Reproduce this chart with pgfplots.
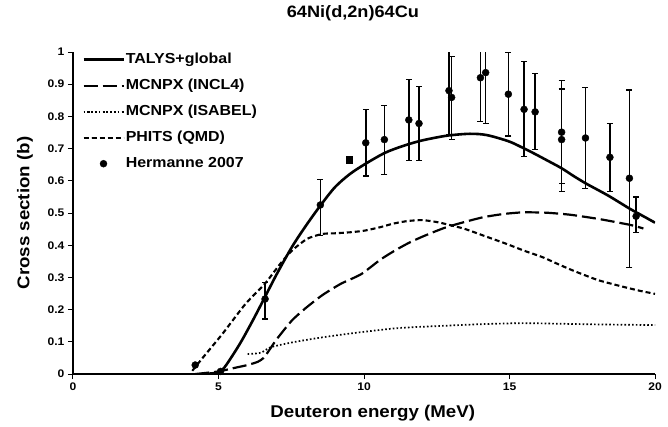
\documentclass[border=0pt]{standalone}
\usepackage{fontspec}
\setmainfont{Liberation Sans}[FakeStretch=1.1]
\usepackage{pgfplots}
\pgfplotsset{compat=1.18}
\begin{document}
\begin{tikzpicture}
\begin{axis}[
  width=582pt, height=322pt, scale only axis,
  xmin=0, xmax=20, ymin=0, ymax=1,
  axis x line=bottom, axis y line=left,
  axis line style={-, line width=1.3pt},
  xtick={0,5,10,15,20},
  ytick={0,0.1,0.2,0.3,0.4,0.5,0.6,0.7,0.8,0.9,1},
  tick align=outside, major tick length=5pt,
  tick style={line width=1pt, black},
  /pgf/number format/assume math mode=true,
  /pgf/number format/fixed, /pgf/number format/precision=1,
  tick label style={font=\fontsize{11}{13}\selectfont\bfseries},
  xlabel={Deuteron energy (MeV)},
  ylabel={Cross section (b)},
  xlabel style={at={(axis description cs:0.515,-0.1335)}, anchor=base, inner sep=0pt, font=\fontsize{17}{20}\selectfont\bfseries},
  ylabel style={at={(axis description cs:-0.0687,0.5)}, anchor=south, inner sep=0pt, font=\fontsize{17}{20}\selectfont\bfseries},
  title={64Ni(d,2n)64Cu},
  title style={at={(axis description cs:0.481,1.09)}, anchor=base, inner sep=0pt, font=\fontsize{16.5}{19}\selectfont\bfseries},
  legend image code/.code={\draw[mark repeat=2,mark phase=2,#1] plot coordinates {(0pt,0pt) (20pt,0pt) (40pt,0pt)};},
  legend style={at={(axis description cs:0.0155,1.0)}, anchor=north west, draw=none, fill=none, inner sep=0pt,
    font=\fontsize{14.5}{16}\selectfont\bfseries, row sep=11pt,
    nodes={inner sep=1pt, text height=10pt, text depth=3pt}},
  legend cell align=left,
  clip=true,
]
\addplot[black, line width=2.6pt, smooth, tension=0.5] coordinates {
(4.5,0) (5.0,0.005) (5.2,0.02) (5.5,0.06) (5.8,0.104) (6.2,0.17) (6.59,0.238) (7.0,0.31) (7.52,0.394) (8.0,0.46) (8.5,0.523) (9.0,0.58) (9.5,0.62) (10.0,0.65) (10.7,0.686) (11.3,0.707) (11.89,0.723) (12.4,0.733) (12.92,0.741) (13.64,0.746) (14.22,0.742) (14.96,0.723) (15.4,0.705) (15.82,0.686) (16.3,0.663) (16.79,0.639) (17.2,0.615) (17.62,0.592) (18.05,0.571) (18.45,0.551) (19.12,0.514) (19.5,0.495) (20,0.47)};
\addlegendentry{TALYS+global}
\addplot[black, line width=2.2pt, dash pattern=on 14pt off 5pt, smooth, tension=0.4] coordinates {
(4.2,0) (5.0,0.008) (5.5,0.018) (6.0,0.028) (6.35,0.038) (6.55,0.05) (6.75,0.075) (7.0,0.108) (7.52,0.166) (8.0,0.205) (8.57,0.245) (9.2,0.28) (9.9,0.31) (10.56,0.355) (11.09,0.385) (11.6,0.41) (12.15,0.432) (12.8,0.455) (13.45,0.472) (14.1,0.487) (14.8,0.497) (15.46,0.502) (16.26,0.501) (17.05,0.495) (17.6,0.488) (18.1,0.481) (18.64,0.472) (19.2,0.462) (19.6,0.452)};
\addlegendentry{MCNPX (INCL4)}
\addplot[black, line width=1.7pt, dash pattern=on 1.6pt off 2.2pt, smooth, tension=0.4] coordinates {
(6.0,0.062) (6.45,0.066) (6.79,0.083) (7.52,0.098) (8.57,0.114) (9.9,0.130) (11.22,0.143) (12.8,0.150) (14.1,0.155) (15.46,0.158) (16.79,0.156) (18.1,0.154) (20,0.152)};
\addlegendentry{MCNPX (ISABEL)}
\addplot[black, line width=2.1pt, dash pattern=on 5pt off 3pt, smooth, tension=0.4] coordinates {
(4.1,0.01) (4.5,0.055) (5.13,0.124) (5.93,0.218) (6.59,0.28) (7.12,0.342) (7.52,0.383) (8.05,0.42) (8.57,0.435) (9.0,0.437) (9.5,0.44) (10.0,0.445) (10.56,0.456) (11.0,0.467) (11.49,0.475) (12.0,0.478) (12.5,0.472) (12.8,0.466) (13.45,0.451) (14.1,0.43) (14.9,0.404) (15.5,0.383) (16.13,0.363) (16.7,0.34) (17.19,0.321) (17.7,0.303) (18.1,0.29) (18.9,0.271) (19.5,0.258) (20,0.249)};
\addlegendentry{PHITS (QMD)}
\addplot[black, only marks, mark=*, mark size=3.5pt,
  error bars/.cd, y dir=both, y explicit,
  error bar style={line width=1.6pt, black},
  error mark options={rotate=90, mark size=3pt, line width=1.2pt, black}]
  table[x=x, y=y, y error plus=ep, y error minus=em] {
x y ep em
4.2 0.028 0 0
5.07 0.008 0 0
6.6 0.233 0.052 0.062
8.5 0.525 0.08 0.095
10.06 0.718 0.104 0.103
10.7 0.728 0.107 0.108
11.54 0.789 0.125 0.125
11.89 0.778 0.115 0.116
12.92 0.88 0.125 0.136
13.01 0.859 0.127 0.131
14.0 0.92 0.15 0.136
14.18 0.936 0.15 0.158
14.96 0.869 0.131 0.13
15.5 0.822 0.149 0.146
15.88 0.814 0.12 0.117
16.79 0.751 0.16 0.159
16.79 0.728 0.157 0.162
17.61 0.733 0.157 0.156
18.45 0.673 0.104 0.107
19.12 0.608 0.274 0.278
19.35 0.49 0.06 0.05
};
\addlegendentry{Hermanne 2007}
\addplot[black, only marks, mark=square*, mark size=3.2pt, forget plot] coordinates {(9.5,0.665)};
\coordinate (bl) at (rel axis cs:-0.1254,-0.1615);
\coordinate (tr) at (rel axis cs:1.0223,1.1615);
\end{axis}
\pgfresetboundingbox
\useasboundingbox (bl) rectangle (tr);
\end{tikzpicture}
\end{document}
